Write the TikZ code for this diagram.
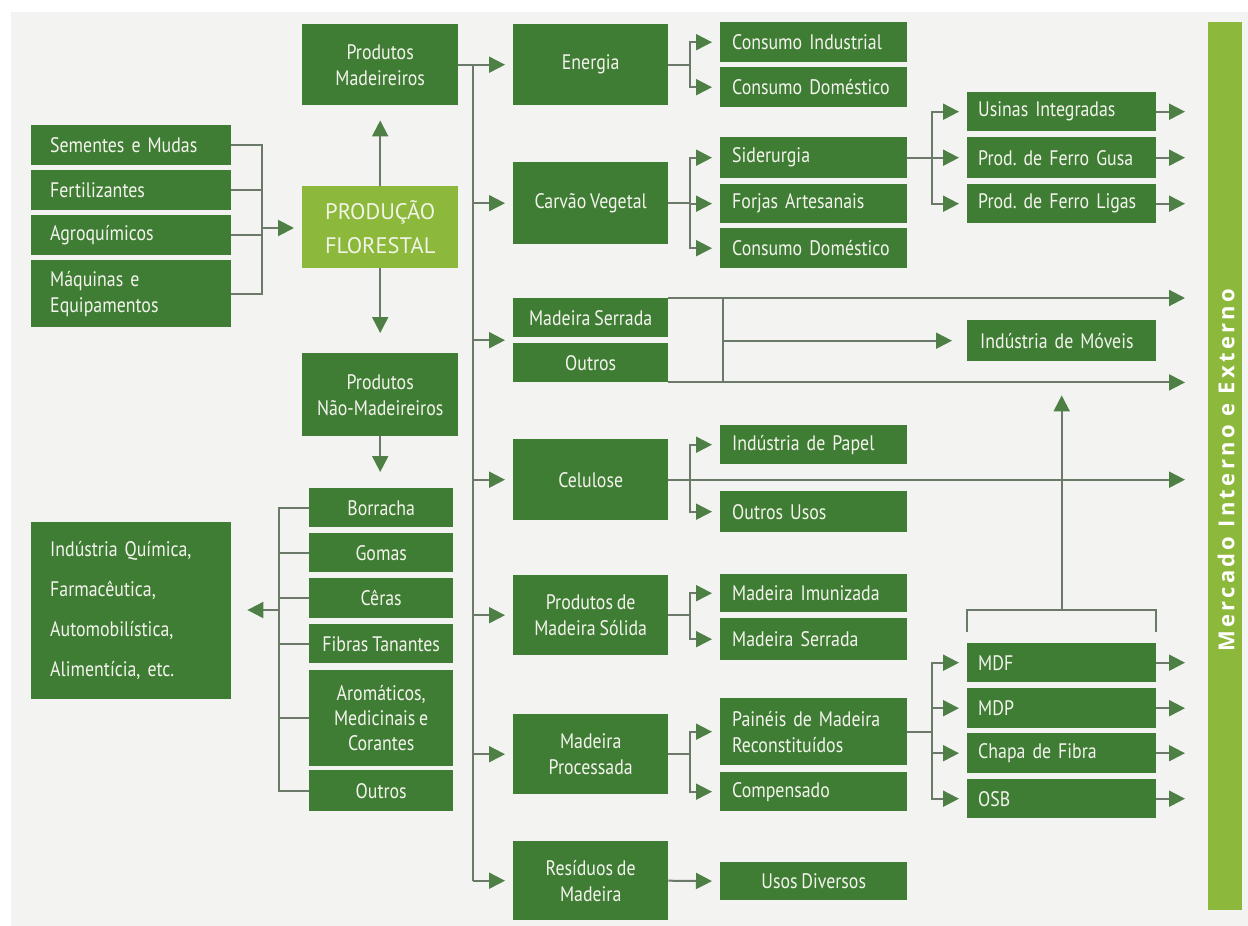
\documentclass[tikz,border=0pt]{standalone}
\usepackage{fontspec}
\setmainfont[FakeStretch=0.85,WordSpace=0.8]{PT Sans}
\newfontfamily\pffont{PT Sans}
\newfontfamily\mkfont[LetterSpace=15]{Open Sans}
\usetikzlibrary{arrows.meta,calc}
\definecolor{gboxc}{HTML}{407D34}
\definecolor{lgreen}{HTML}{8CB83C}
\definecolor{bggray}{HTML}{F3F3F1}
\definecolor{lncol}{HTML}{6B7A68}
\definecolor{arcol}{HTML}{4E7F45}
\definecolor{txcol}{HTML}{F4F4EE}
\definecolor{pftx}{HTML}{F2F5E6}
\tikzset{
 gbx/.style={fill=gboxc, text=txcol, inner ysep=0pt, font=\fontsize{21}{26}\selectfont},
 ln/.style={draw=lncol, line width=2pt},
 arr/.style={ln, -{Triangle[length=16pt,width=16pt,color=arcol]}, shorten >=8pt},
}
% centered box: name, x1,y1,x2,y2, extra style, text
\newcommand\gcbox[7]{%
 \pgfmathsetmacro\gbW{#4-#2}%
 \pgfmathsetmacro\gbH{#5-#3}%
 \node[gbx,anchor=north west,inner xsep=2pt,minimum width=\gbW pt,minimum height=\gbH pt,align=center,#6] (#1) at (#2,#3) {#7};}
% left box: name, x1,y1,x2,y2, pad, extra style, text
\newcommand\glbox[8]{%
 \pgfmathsetmacro\gbW{#4-#2}%
 \pgfmathsetmacro\gbH{#5-#3}%
 \pgfmathsetmacro\gbT{#4-#2-2*#6}%
 \node[gbx,anchor=north west,inner xsep=#6pt,minimum width=\gbW pt,minimum height=\gbH pt,text width=\gbT pt,align=left,#7] (#1) at (#2,#3) {#8};}
\begin{document}
\begin{tikzpicture}[x=1pt,y=-1pt]
\fill[white] (0,0) rectangle (1248,926);
\fill[bggray] (11,12) rectangle (1248,926);
\useasboundingbox (0,0) rectangle (1248,926);
% inputs
\glbox{sem}{31}{125}{231}{165}{19}{}{Sementes~e~Mudas}
\glbox{fer}{31}{170}{231}{210}{19}{}{Fertilizantes}
\glbox{agr}{31}{215}{231}{255}{19}{}{Agroquímicos}
\glbox{maq}{31}{260}{231}{327}{19}{}{Máquinas~e\\Equipamentos}
% center column
\gcbox{pm}{302}{24}{458}{105}{}{Produtos\\Madeireiros}
\gcbox{pf}{302}{186}{458}{268}{fill=lgreen,text=pftx,font=\pffont\fontsize{22.5}{34}\selectfont}{PRODUÇÃO\\FLORESTAL}
\gcbox{pnm}{302}{353}{458}{436}{}{Produtos\\Não-Madeireiros}
\gcbox{bor}{309}{488}{453}{527}{}{Borracha}
\gcbox{gom}{309}{533}{453}{572}{}{Gomas}
\gcbox{cer}{309}{578}{453}{618}{}{Cêras}
\gcbox{fib}{309}{624}{453}{663}{}{Fibras~Tanantes}
\gcbox{aro}{309}{670}{453}{766}{font=\fontsize{21}{25}\selectfont}{Aromáticos,\\Medicinais~e\\Corantes}
\gcbox{out}{309}{770}{453}{811}{}{Outros}
\glbox{iq}{31}{522}{231}{699}{19}{font=\fontsize{21}{40}\selectfont}{Indústria~Química,\\Farmacêutica,\\Automobilística,\\Alimentícia,~etc.}
% column 2
\gcbox{en}{513}{24}{668}{105}{}{Energia}
\gcbox{cv}{513}{162}{668}{244}{}{Carvão~Vegetal}
\gcbox{ms}{513}{298}{668}{337}{}{Madeira~Serrada}
\gcbox{ou}{513}{343}{668}{382}{}{Outros}
\gcbox{cel}{513}{439}{668}{520}{}{Celulose}
\gcbox{pms}{513}{575}{668}{655}{}{Produtos~de\\Madeira~Sólida}
\gcbox{mp}{513}{714}{668}{794}{}{Madeira\\Processada}
\gcbox{res}{513}{841}{668}{920}{}{Resíduos~de\\Madeira}
% column 3
\glbox{ci}{720}{22}{907}{62}{12}{}{Consumo~Industrial}
\glbox{cd1}{720}{67}{907}{107}{12}{}{Consumo~Doméstico}
\glbox{sid}{720}{137}{907}{178}{12}{}{Siderurgia}
\glbox{fa}{720}{184}{907}{223}{12}{}{Forjas~Artesanais}
\glbox{cd2}{720}{228}{907}{268}{12}{}{Consumo~Doméstico}
\glbox{ip}{720}{425}{907}{464}{12}{}{Indústria~de~Papel}
\glbox{ouu}{720}{491}{907}{532}{12}{}{Outros~Usos}
\glbox{mi}{720}{574}{907}{612}{12}{}{Madeira~Imunizada}
\glbox{ms2}{720}{618}{907}{660}{12}{}{Madeira~Serrada}
\glbox{pn}{720}{698}{907}{765}{12}{}{Painéis~de~Madeira\\Reconstituídos}
\glbox{comp}{720}{772}{907}{811}{12}{}{Compensado}
\gcbox{ud}{720}{862}{907}{900}{}{Usos~Diversos}
% column 4
\glbox{ui}{967}{92}{1156}{131}{11}{}{Usinas~Integradas}
\glbox{fg}{967}{137}{1156}{178}{11}{}{Prod.~de~Ferro~Gusa}
\glbox{fl}{967}{184}{1156}{223}{11}{}{Prod.~de~Ferro~Ligas}
\glbox{mov}{967}{320}{1156}{361}{13}{}{Indústria~de~Móveis}
\glbox{mdf}{967}{643}{1156}{682}{11}{}{MDF}
\glbox{mdp}{967}{688}{1156}{728}{11}{}{MDP}
\glbox{chp}{967}{733}{1156}{773}{11}{}{Chapa~de~Fibra}
\glbox{osb}{967}{779}{1156}{818}{11}{}{OSB}
% market bar
\node[fill=lgreen, inner sep=0pt, minimum width=34pt, minimum height=888pt, anchor=north west] (mk) at (1208,22) {};
\node[rotate=90, text=white, inner sep=0pt, font=\mkfont\bfseries\fontsize{22}{24}\selectfont] (mkt) at ($(mk.center)+(1,4)$) {Mercado Interno e Externo};
% inputs -> producao
\coordinate (jin) at (262,228);
\foreach \n in {sem,fer,agr,maq} \draw[ln] (\n.east) -| (jin);
\draw[arr] (jin) -- (jin -| pf.west);
\draw[arr, shorten >=15pt] (pf.north) -- (pm.south);
\draw[arr, shorten >=20pt] (pf.south) -- (pnm.north);
\draw[arr, shorten >=16pt] (pnm.south) -- (pnm.south |- bor.north);
% non-wood products
\coordinate (jnm) at (279,610);
\foreach \n in {bor,gom,cer,fib,aro,out} \draw[ln] (\n.west) -| (jnm);
\draw[arr, shorten >=16pt] (jnm) -- (jnm -| iq.east);
% trunk
\coordinate (t0) at (473,65);
\draw[arr] (pm.east) -- (en.west);
\draw[ln] (t0) -- (t0 |- res.west);
\foreach \n in {cv,cel,pms,mp,res} \draw[arr] (t0 |- \n.west) -- (\n.west);
\coordinate (mso) at ($(ms.south west)!.5!(ou.north west)$);
\draw[arr] (t0 |- mso) -- (mso);
% column 2 -> column 3
\coordinate (be) at (690,65);
\draw[ln] (en.east) -- (en.east -| be);
\foreach \n in {ci,cd1} \draw[arr] (en.east -| be) |- (\n.west);
\draw[ln] (cv.east) -- (cv.east -| be);
\foreach \n in {sid,fa,cd2} \draw[arr] (cv.east -| be) |- (\n.west);
\draw[arr, shorten >=23pt] (cel.east) -- (cel.east -| mk.west);
\foreach \n in {ip,ouu} \draw[arr] (cel.east -| be) |- (\n.west);
\draw[ln] (pms.east) -- (pms.east -| be);
\foreach \n in {mi,ms2} \draw[arr] (pms.east -| be) |- (\n.west);
\draw[ln] (mp.east) -- (mp.east -| be);
\foreach \n in {pn,comp} \draw[arr] (mp.east -| be) |- (\n.west);
\draw[arr] (res.east) -- (ud.west);
% column 3 -> column 4
\coordinate (bs) at (932,0);
\draw[ln] (sid.east) -- (sid.east -| bs);
\foreach \n in {ui,fg,fl} \draw[arr] (sid.east -| bs) |- (\n.west);
\draw[ln] (pn.east) -- (pn.east -| bs);
\foreach \n in {mdf,mdp,chp,osb} \draw[arr] (pn.east -| bs) |- (\n.west);
\foreach \n in {ui,fg,fl,mdf,mdp,chp,osb} \draw[arr, shorten >=23pt] (\n.east) -- (\n.east -| mk.west);
% sawn wood / others
\coordinate (vx) at (723,0);
\draw[arr, shorten >=23pt] (ms.north east) -- (ms.north east -| mk.west);
\draw[arr, shorten >=23pt] (ou.south east) -- (ou.south east -| mk.west);
\draw[ln] (ms.north east -| vx) -- (ou.south east -| vx);
\draw[arr, shorten >=15pt] (vx |- mov.west) -- (mov.west);
% panels bracket -> furniture
\coordinate (brl) at ($(mdf.north west)+(0,-11)$);
\coordinate (brr) at ($(mdf.north east)+(0,-11)$);
\coordinate (brc) at ($(mdf.north)+(0,-33)$);
\draw[ln] (brl) |- (brc) -| (brr);
\draw[arr, shorten >=34pt] (brc) -- (mov.south);
\end{tikzpicture}
\end{document}
